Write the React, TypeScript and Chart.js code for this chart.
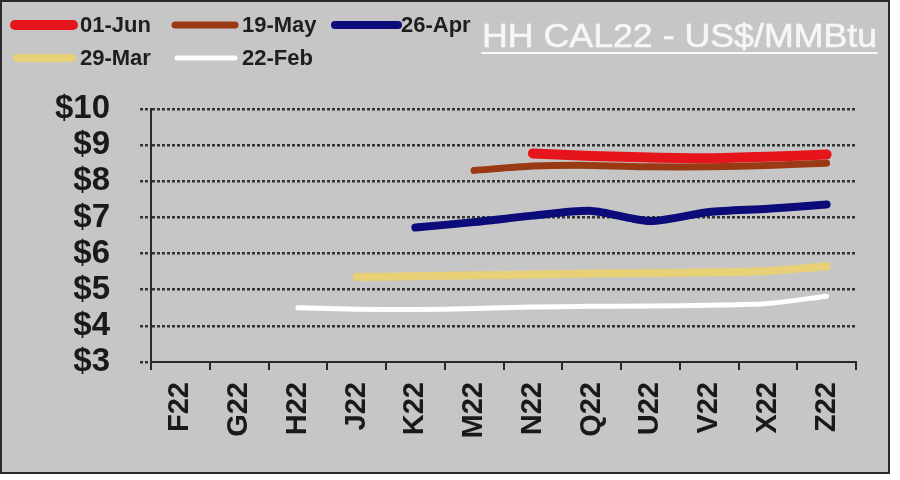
import React, { useEffect, useRef } from "react";
import { Chart, registerables } from "chart.js";

Chart.register(...registerables);

const categories = ["F22", "G22", "H22", "J22", "K22", "M22", "N22", "Q22", "U22", "V22", "X22", "Z22"];
const seriesLabels = ["01-Jun", "19-May", "26-Apr", "29-Mar", "22-Feb"];
const jun01 = [null, null, null, null, null, null, 8.77, 8.7, 8.66, 8.64, 8.68, 8.74];
const may19 = [null, null, null, null, null, 8.3, 8.42, 8.44, 8.4, 8.4, 8.44, 8.5];
const apr26 = [null, null, null, null, 6.72, 6.87, 7.05, 7.18, 6.9, 7.15, 7.24, 7.36];
const mar29 = [null, null, null, 5.35, 5.37, 5.4, 5.42, 5.45, 5.46, 5.48, 5.52, 5.65];
const feb22 = [null, null, 4.5, 4.46, 4.45, 4.48, 4.52, 4.54, 4.55, 4.57, 4.62, 4.82];
const yTicks = [3, 4, 5, 6, 7, 8, 9, 10];
const titleText = "HH CAL22 - US$/MMBtu";

const colors = ["#e6151b", "#9a3a14", "#0b0b7a", "#e8d076", "#ffffff"];
const widths = [10, 7, 8, 8, 5];
const FONT = "'Liberation Sans', Arial, sans-serif";

const legendTitlePlugin = {
  id: "legendTitle",
  afterDraw(chart: any) {
    const ctx = chart.ctx;
    ctx.save();
    const pos = [
      { x1: 13, x2: 71, y: 23, tx: 78 },
      { x1: 173, x2: 233, y: 23, tx: 240 },
      { x1: 333, x2: 396, y: 23, tx: 399 },
      { x1: 15, x2: 70, y: 56, tx: 78 },
      { x1: 175, x2: 233, y: 56, tx: 240 },
    ];
    chart.data.datasets.forEach((ds: any, i: number) => {
      const p = pos[i];
      ctx.beginPath();
      ctx.strokeStyle = ds.borderColor;
      ctx.lineWidth = ds.borderWidth;
      ctx.lineCap = "round";
      ctx.moveTo(p.x1, p.y);
      ctx.lineTo(p.x2, p.y);
      ctx.stroke();
      ctx.fillStyle = "#1e1e1e";
      ctx.font = `bold 22px ${FONT}`;
      ctx.textBaseline = "middle";
      ctx.textAlign = "left";
      ctx.fillText(ds.label, p.tx, p.y + 1);
    });
    ctx.font = `34px ${FONT}`;
    const w = ctx.measureText(titleText).width;
    const target = 395;
    const sx = target / w;
    ctx.save();
    ctx.translate(480, 36);
    ctx.scale(sx, 1);
    ctx.fillStyle = "#f6f6f6";
    ctx.strokeStyle = "#f6f6f6";
    ctx.lineWidth = 0.6;
    ctx.textBaseline = "middle";
    ctx.textAlign = "left";
    ctx.fillText(titleText, 0, 0);
    ctx.strokeText(titleText, 0, 0);
    ctx.restore();
    ctx.beginPath();
    ctx.strokeStyle = "#f6f6f6";
    ctx.lineWidth = 2;
    ctx.moveTo(480, 51);
    ctx.lineTo(480 + target, 51);
    ctx.stroke();
    ctx.restore();
  },
};

export default function App() {
  const ref = useRef<HTMLCanvasElement>(null);
  useEffect(() => {
    if (!ref.current) return;
    const series = [jun01, may19, apr26, mar29, feb22];
    const chart = new Chart(ref.current, {
      type: "line",
      data: {
        labels: categories,
        datasets: series.map((d, i) => ({
          label: seriesLabels[i],
          data: d,
          borderColor: colors[i],
          backgroundColor: colors[i],
          borderWidth: widths[i],
          pointRadius: 0,
          tension: 0.25,
          borderCapStyle: "round",
          borderJoinStyle: "round",
          spanGaps: false,
        })),
      },
      options: {
        animation: false,
        responsive: false,
        maintainAspectRatio: false,
        layout: { padding: { left: 0, right: 32, top: 107, bottom: 0 } },
        plugins: { legend: { display: false }, tooltip: { enabled: false }, title: { display: false } },
        scales: {
          x: {
            type: "category",
            offset: true,
            grid: {
              offset: true,
              drawOnChartArea: false,
              drawTicks: true,
              tickLength: 8,
              color: "#2a2a2a",
              lineWidth: 2,
            },
            border: { display: true, color: "#2a2a2a", width: 2 },
            ticks: {
              autoSkip: false,
              minRotation: 90,
              maxRotation: 90,
              padding: 12,
              color: "#1a1a1a",
              font: { family: FONT, size: 29, weight: "bold" },
            },
            afterFit: (s: any) => {
              s.height = 110;
            },
          },
          y: {
            min: 3,
            max: 10,
            afterBuildTicks: (s: any) => {
              s.ticks = yTicks.map((v) => ({ value: v }));
            },
            grid: {
              color: (c: any) => (c.tick && c.tick.value === 3 ? "rgba(0,0,0,0)" : "#333333"),
              lineWidth: 2.5,
              tickBorderDash: [3, 2],
              tickLength: 11,
              tickColor: "#333333",
            },
            border: { display: true, color: "#2a2a2a", width: 2, dash: [3, 2] },
            ticks: {
              autoSkip: false,
              padding: 30,
              color: "#1a1a1a",
              font: { family: FONT, size: 33, weight: "bold", lineHeight: 1 },
              callback: (v: any) => "$" + v,
            },
            afterFit: (s: any) => {
              s.width = 149;
            },
          },
        },
      },
      plugins: [legendTitlePlugin],
    });
    return () => chart.destroy();
  }, []);
  return (
    <div
      style={{
        position: "absolute",
        left: 0,
        top: 0,
        width: 900,
        height: 480,
        background: "#ffffff",
      }}
    >
      <div
        style={{
          position: "absolute",
          left: 0,
          top: 0,
          width: 890,
          height: 474,
          boxSizing: "border-box",
          border: "2px solid #2a2a2a",
          background: "#c6c6c6",
        }}
      >
        <canvas ref={ref} width={886} height={470} style={{ display: "block", width: 886, height: 470 }} />
      </div>
    </div>
  );
}
